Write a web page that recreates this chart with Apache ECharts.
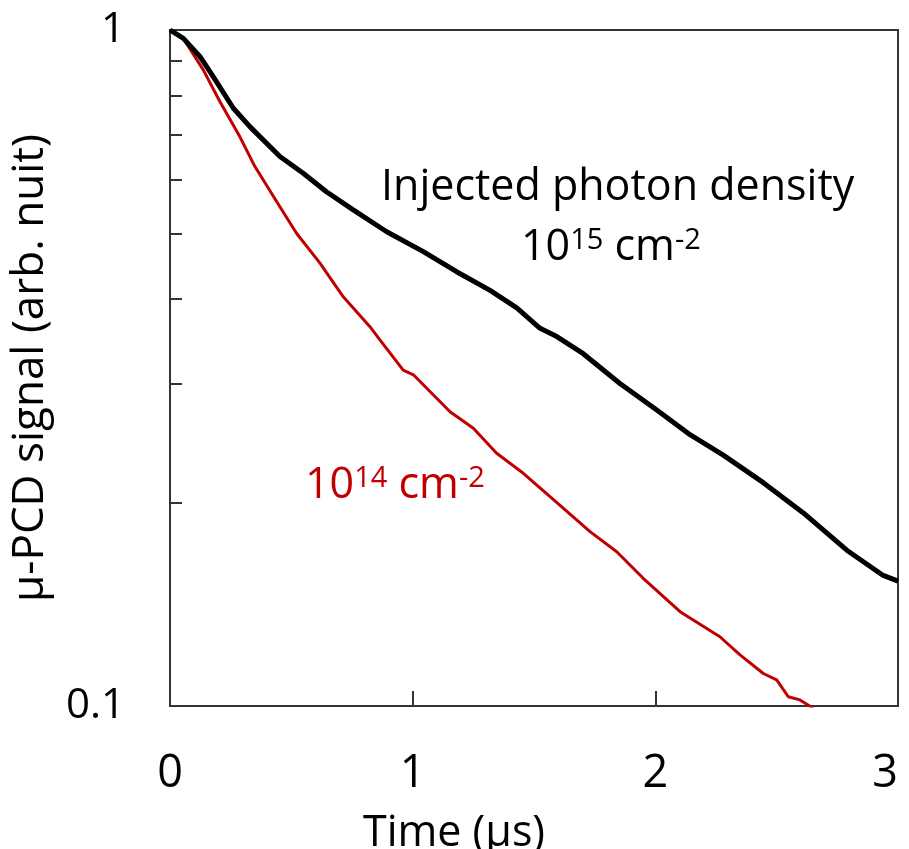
<!DOCTYPE html>
<html>
<head>
<meta charset="utf-8">
<script src="https://cdn.jsdelivr.net/npm/echarts@6/dist/echarts.min.js"></script>
<style>html,body{margin:0;padding:0;background:#fff;}#c{width:909px;height:849px;}</style>
</head>
<body>
<div id="c"></div>
<script>
// Data
const xTicks = [0, 1, 2, 3];
const yLabels = [0.1, 1];
const yMinorTicks = [0.2, 0.3, 0.4, 0.5, 0.6, 0.7, 0.8, 0.9];

const highT = [0, 0.055, 0.124, 0.178, 0.261, 0.330, 0.453, 0.549, 0.646, 0.755, 0.893, 1.044, 1.181, 1.319, 1.429, 1.525, 1.594, 1.703, 1.854, 2.006, 2.143, 2.280, 2.445, 2.610, 2.789, 2.939, 3.0];
const highV = [1, 0.972, 0.913, 0.853, 0.766, 0.719, 0.650, 0.614, 0.576, 0.542, 0.503, 0.470, 0.439, 0.412, 0.388, 0.362, 0.352, 0.332, 0.300, 0.274, 0.252, 0.235, 0.214, 0.193, 0.170, 0.156, 0.153];

const lowT = [0, 0.055, 0.137, 0.206, 0.288, 0.350, 0.440, 0.522, 0.618, 0.714, 0.824, 0.865, 0.961, 1.003, 1.154, 1.250, 1.346, 1.456, 1.566, 1.731, 1.841, 1.950, 2.102, 2.266, 2.349, 2.445, 2.500, 2.548, 2.596, 2.651];
const lowV = [1, 0.972, 0.873, 0.783, 0.695, 0.628, 0.557, 0.500, 0.452, 0.403, 0.364, 0.348, 0.314, 0.309, 0.2725, 0.2575, 0.2365, 0.2209, 0.2040, 0.1811, 0.1691, 0.1545, 0.1379, 0.1266, 0.1190, 0.1117, 0.1093, 0.1032, 0.1021, 0.0992];

const FONT = 'Open Sans';
const RED = '#c00000';
const AXIS = '#333';

const chart = echarts.init(document.getElementById('c'), null, {renderer: 'canvas'});
const zip = (a, b) => a.map((v, i) => [v, b[i]]);

chart.setOption({
  animation: false,
  backgroundColor: '#fff',
  grid: {left: 170, top: 30, right: 11, bottom: 143, containLabel: false, outerBoundsMode: 'none',
         show: true, borderColor: AXIS, borderWidth: 2, backgroundColor: 'transparent'},
  xAxis: {
    type: 'value', min: xTicks[0], max: xTicks[xTicks.length - 1], interval: 1,
    name: 'Time (μs)', nameLocation: 'middle', nameGap: 106,
    nameTextStyle: {fontFamily: FONT, fontSize: 43, color: '#000', padding: [0, 160, 0, 0]},
    axisLine: {show: true, lineStyle: {color: AXIS, width: 2}},
    axisTick: {show: true, inside: true, length: 15, lineStyle: {color: AXIS, width: 2}},
    axisLabel: {fontFamily: FONT, fontSize: 45, color: '#000', margin: 46, alignMaxLabel: 'right'},
    splitLine: {show: false}
  },
  yAxis: {
    type: 'log', logBase: 10, min: yLabels[0], max: yLabels[1],
    name: 'μ-PCD signal (arb. nuit)', nameLocation: 'middle', nameGap: 118,
    nameTextStyle: {fontFamily: FONT, fontSize: 44, color: '#000'},
    axisLine: {show: true, lineStyle: {color: AXIS, width: 2}},
    axisTick: {show: true, inside: true, length: 12, customValues: yMinorTicks, lineStyle: {color: AXIS, width: 2}},
    axisLabel: {fontFamily: FONT, fontSize: 42, color: '#000', margin: 45, customValues: yLabels, formatter: v => String(+v.toFixed(3))},
    splitLine: {show: false}
  },
  graphic: [
    {type: 'text', left: 381, top: 166, z: 10,
     style: {text: 'Injected photon density', fontFamily: FONT, fontSize: 43, fill: '#000'}},
    {type: 'text', left: 521, top: 226, z: 10,
     style: {text: '{n|10}{s|15}{n| cm}{s|-2}', fontFamily: FONT, fill: '#000',
       rich: {n: {fontFamily: FONT, fontSize: 43, fill: '#000', verticalAlign: 'bottom'},
              s: {fontFamily: FONT, fontSize: 29, fill: '#000', verticalAlign: 'top'}}}},
    {type: 'text', left: 305, top: 464, z: 10,
     style: {text: '{n|10}{s|14}{n| cm}{s|-2}', fontFamily: FONT, fill: RED,
       rich: {n: {fontFamily: FONT, fontSize: 43, fill: RED, verticalAlign: 'bottom'},
              s: {fontFamily: FONT, fontSize: 29, fill: RED, verticalAlign: 'top'}}}}
  ],
  series: [
    {type: 'line', data: zip(highT, highV), showSymbol: false, symbol: 'none', smooth: false,
     lineStyle: {color: '#000', width: 5}, z: 3},
    {type: 'line', data: zip(lowT, lowV), showSymbol: false, symbol: 'none', smooth: false,
     lineStyle: {color: RED, width: 3}, z: 2}
  ]
});
</script>
</body>
</html>
